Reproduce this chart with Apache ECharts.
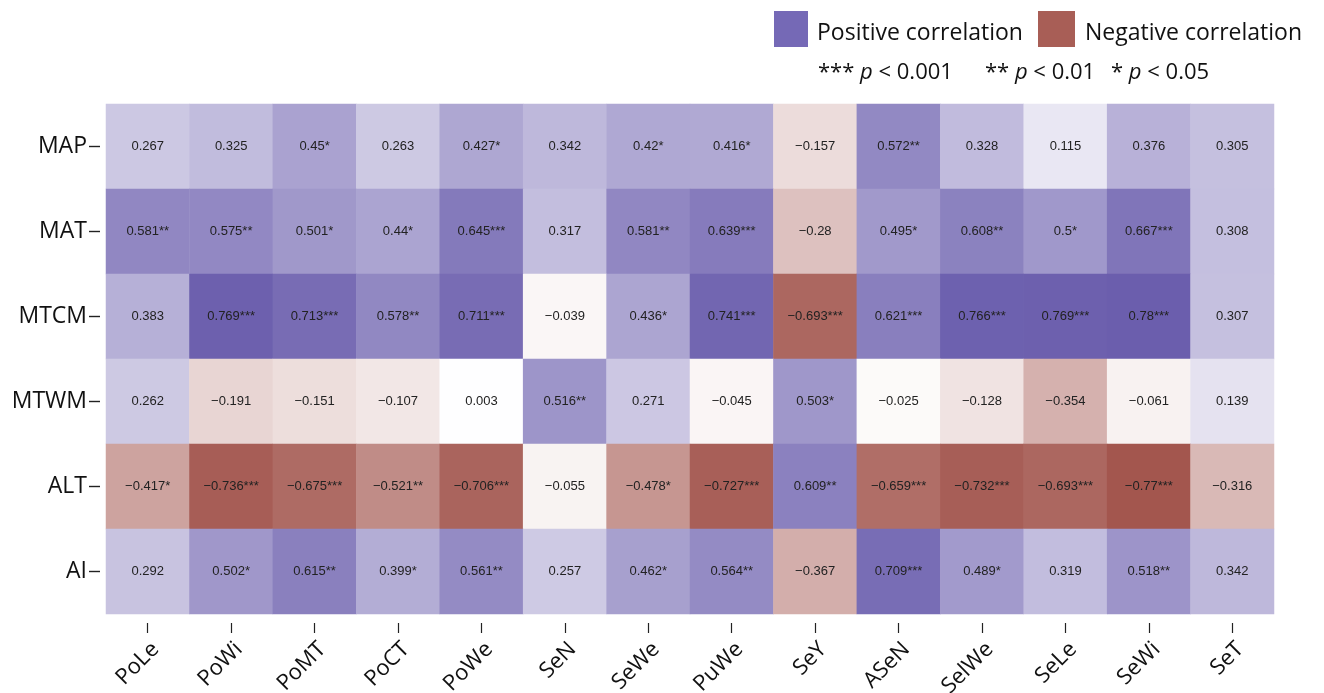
<!DOCTYPE html>
<html>
<head>
<meta charset="utf-8">
<script src="https://cdn.jsdelivr.net/npm/echarts@6/dist/echarts.min.js"></script>
<style>
html,body{margin:0;padding:0;background:#fff;}
#chart{width:1324px;height:693px;}
</style>
</head>
<body>
<div id="chart"></div>
<script>
const columns = ['PoLe','PoWi','PoMT','PoCT','PoWe','SeN','SeWe','PuWe','SeY','ASeN','SelWe','SeLe','SeWi','SeT'];
const rows = ['MAP','MAT','MTCM','MTWM','ALT','AI'];

const MAP  = [0.267, 0.325, 0.45, 0.263, 0.427, 0.342, 0.42, 0.416, -0.157, 0.572, 0.328, 0.115, 0.376, 0.305];
const MAT  = [0.581, 0.575, 0.501, 0.44, 0.645, 0.317, 0.581, 0.639, -0.28, 0.495, 0.608, 0.5, 0.667, 0.308];
const MTCM = [0.383, 0.769, 0.713, 0.578, 0.711, -0.039, 0.436, 0.741, -0.693, 0.621, 0.766, 0.769, 0.78, 0.307];
const MTWM = [0.262, -0.191, -0.151, -0.107, 0.003, 0.516, 0.271, -0.045, 0.503, -0.025, -0.128, -0.354, -0.061, 0.139];
const ALT  = [-0.417, -0.736, -0.675, -0.521, -0.706, -0.055, -0.478, -0.727, 0.609, -0.659, -0.732, -0.693, -0.77, -0.316];
const AI   = [0.292, 0.502, 0.615, 0.399, 0.561, 0.257, 0.462, 0.564, -0.367, 0.709, 0.489, 0.319, 0.518, 0.342];

const MAP_sig  = ['', '', '*', '', '*', '', '*', '*', '', '**', '', '', '', ''];
const MAT_sig  = ['**', '**', '*', '*', '***', '', '**', '***', '', '*', '**', '*', '***', ''];
const MTCM_sig = ['', '***', '***', '**', '***', '', '*', '***', '***', '***', '***', '***', '***', ''];
const MTWM_sig = ['', '', '', '', '', '**', '', '', '*', '', '', '', '', ''];
const ALT_sig  = ['*', '***', '***', '**', '***', '', '*', '***', '**', '***', '***', '***', '***', ''];
const AI_sig   = ['', '*', '**', '*', '**', '', '*', '**', '', '***', '*', '', '**', ''];

const values = [MAP, MAT, MTCM, MTWM, ALT, AI];
const sigs = [MAP_sig, MAT_sig, MTCM_sig, MTWM_sig, ALT_sig, AI_sig];

const data = [];
values.forEach((row, r) => {
  row.forEach((v, c) => {
    data.push({ value: [c, r, v], sig: sigs[r][c] });
  });
});

const chart = echarts.init(document.getElementById('chart'));
const labelFont = '"Open Sans", "Noto Sans", sans-serif';

chart.setOption({
  backgroundColor: '#ffffff',
  animation: false,
  grid: { left: 106, right: 50, top: 104, bottom: 79, outerBoundsMode: 'none', containLabel: false },
  xAxis: {
    type: 'category',
    data: columns,
    position: 'bottom',
    offset: 9,
    axisLine: { show: false },
    axisTick: { show: true, alignWithLabel: true, length: 10, lineStyle: { color: '#222', width: 1.2 } },
    axisLabel: { rotate: 45, margin: 15, fontSize: 22, color: '#111', fontFamily: labelFont, align: 'right', verticalAlign: 'top' },
    splitLine: { show: false }
  },
  yAxis: {
    type: 'category',
    data: rows,
    inverse: true,
    offset: 6,
    axisLine: { show: false },
    axisTick: { show: true, alignWithLabel: true, length: 11, lineStyle: { color: '#222', width: 1.4 } },
    axisLabel: { margin: 13, fontSize: 23, color: '#111', fontFamily: labelFont },
    splitLine: { show: false }
  },
  visualMap: {
    show: false,
    type: 'continuous',
    min: -0.8,
    max: 0.8,
    dimension: 2,
    inRange: { color: ['#9f4f47', '#ffffff', '#675aab'] }
  },
  series: [{
    type: 'heatmap',
    data: data,
    itemStyle: { borderWidth: 0 },
    label: {
      show: true,
      fontSize: 13,
      color: '#222',
      fontFamily: '"Liberation Sans", Arial, sans-serif',
      formatter: function (p) {
        const v = p.value[2];
        return String(v).replace('-', '\u2212') + (p.data.sig || '');
      }
    },
    emphasis: { disabled: true }
  }],
  graphic: [
    { type: 'rect', left: 774, top: 11, shape: { width: 34, height: 36 }, style: { fill: '#7569b6' } },
    { type: 'text', left: 817, top: 22, style: { text: 'Positive correlation', fontSize: 23, fill: '#111', fontFamily: labelFont } },
    { type: 'rect', left: 1038, top: 11, shape: { width: 37, height: 36 }, style: { fill: '#a85e56' } },
    { type: 'text', left: 1085, top: 22, style: { text: 'Negative correlation', fontSize: 23, fill: '#111', fontFamily: labelFont } },
    { type: 'text', left: 818, top: 62, style: {
        text: '*** {i|p} < 0.001', fontSize: 22, fill: '#111', fontFamily: labelFont,
        rich: { i: { fontStyle: 'italic', fontSize: 22, fill: '#111', fontFamily: labelFont } } } },
    { type: 'text', left: 985, top: 62, style: {
        text: '** {i|p} < 0.01', fontSize: 22, fill: '#111', fontFamily: labelFont,
        rich: { i: { fontStyle: 'italic', fontSize: 22, fill: '#111', fontFamily: labelFont } } } },
    { type: 'text', left: 1111, top: 62, style: {
        text: '* {i|p} < 0.05', fontSize: 22, fill: '#111', fontFamily: labelFont,
        rich: { i: { fontStyle: 'italic', fontSize: 22, fill: '#111', fontFamily: labelFont } } } }
  ]
});
</script>
</body>
</html>
